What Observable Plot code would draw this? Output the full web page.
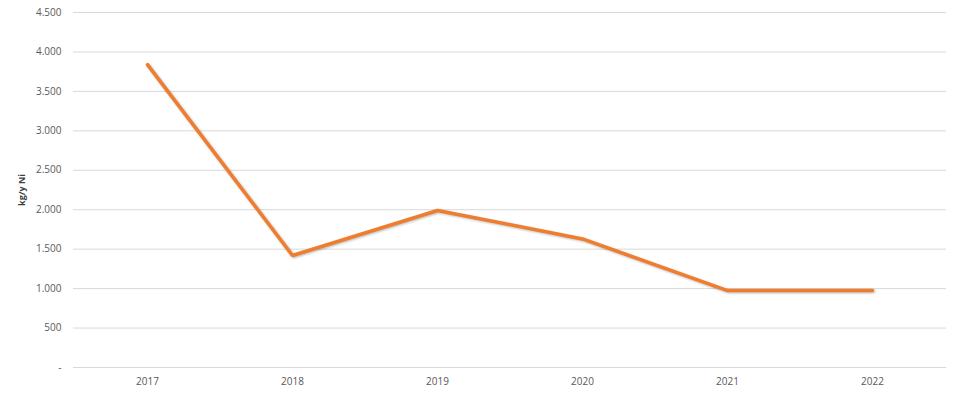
<!DOCTYPE html>
<html>
<head>
<meta charset="utf-8">
<script src="https://cdn.jsdelivr.net/npm/d3@7"></script>
<script src="https://cdn.jsdelivr.net/npm/@observablehq/plot@0.6"></script>
<style>
  html, body { margin: 0; padding: 0; background: #fff; }
  #chart g[aria-label="line"] path { filter: drop-shadow(1px 1.5px 1px rgba(60,60,60,0.35)); }
</style>
</head>
<body>
<div id="chart"></div>
<script>
const years = ["2017", "2018", "2019", "2020", "2021", "2022"];
const values = [3840, 1420, 1990, 1630, 975, 975];
const yTicks = [0, 500, 1000, 1500, 2000, 2500, 3000, 3500, 4000, 4500];
const yLabel = "kg/y Ni";

const data = years.map((y, i) => ({year: y, value: values[i]}));
const fmt = d => d === 0 ? "-" : d3.format(",")(d).replace(/,/g, ".");

const chart = Plot.plot({
  width: 960,
  height: 396,
  marginLeft: 73,
  marginRight: 14,
  marginTop: 12,
  marginBottom: 29,
  style: {fontFamily: "'Open Sans', 'Liberation Sans', sans-serif", fontSize: "10px", color: "#595959", background: "#fff"},
  x: {type: "point", domain: years, padding: 0.5, label: null, tickSize: 0, tickPadding: 10},
  y: {domain: [0, 4500], ticks: yTicks, tickFormat: fmt, label: null, tickSize: 0, tickPadding: 12},
  marks: [
    Plot.ruleY(yTicks, {stroke: "#d9d9d9", strokeWidth: 1}),
    Plot.line(data, {x: "year", y: "value", stroke: "#F07C2E", strokeWidth: 3.5, strokeLinejoin: "miter", strokeLinecap: "round"}),
    Plot.text([yLabel], {frameAnchor: "left", textAnchor: "middle", dx: -51, rotate: -90, fill: "#404040", fontSize: 9, fontWeight: "bold"})
  ]
});
document.getElementById("chart").appendChild(chart);
</script>
</body>
</html>
